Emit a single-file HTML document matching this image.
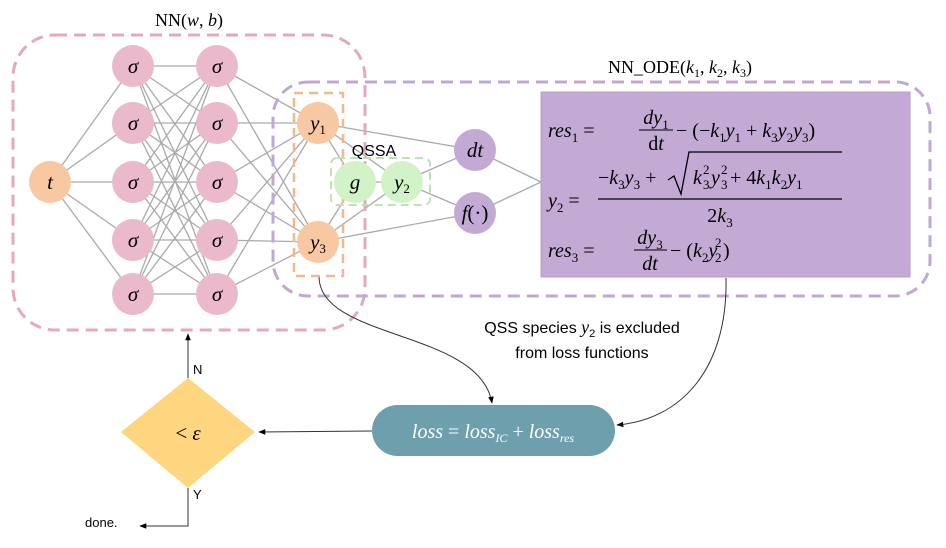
<!DOCTYPE html>
<html><head><meta charset="utf-8"><style>
html,body{margin:0;padding:0;background:#fff;}
svg{display:block;font-family:"Liberation Serif",serif;}
.m{font-style:italic;font-family:"Liberation Serif",serif;}
.s{font-family:"Liberation Sans",sans-serif;}
</style></head><body>
<svg width="946" height="548" viewBox="0 0 946 548" xmlns="http://www.w3.org/2000/svg">
<defs>
<marker id="ar" viewBox="0 0 10 10" refX="9" refY="5" markerWidth="7" markerHeight="7" orient="auto-start-reverse"><path d="M0,1 L10,5 L0,9 z" fill="#000"/></marker>
</defs>
<g id="edges" stroke="#aaa" stroke-width="1.3"></g>
<rect x="13" y="35" width="352" height="295" rx="42" fill="none" stroke="#e4a9c0" stroke-width="3" stroke-dasharray="12,7"/>
<text x="189" y="26" font-size="18" text-anchor="middle">NN(<tspan class="m">w</tspan>, <tspan class="m">b</tspan>)</text>
<rect x="273" y="82" width="657" height="214" rx="35" fill="none" stroke="#c0a8d4" stroke-width="3" stroke-dasharray="12,7"/>
<text x="680" y="73" font-size="18" text-anchor="middle">NN_ODE(<tspan class="m">k</tspan><tspan font-size="12" dy="4">1</tspan><tspan dy="-4">, </tspan><tspan class="m">k</tspan><tspan font-size="12" dy="4">2</tspan><tspan dy="-4">, </tspan><tspan class="m">k</tspan><tspan font-size="12" dy="4">3</tspan><tspan dy="-4">)</tspan></text>
<rect x="294" y="93" width="49" height="183" fill="none" stroke="#f2b98f" stroke-width="2.5" stroke-dasharray="9,6"/>
<rect x="331" y="158" width="99" height="47" rx="6" fill="none" stroke="#bde3b0" stroke-width="2" stroke-dasharray="8,5"/>
<text class="s" x="374" y="156" font-size="16" text-anchor="middle">QSSA</text>
<g id="nodes"></g>
<rect x="541" y="92" width="369" height="185" fill="#c3aad4" stroke="#b39cc6"/>
<g font-size="20">
<text x="548" y="137"><tspan class="m">res</tspan><tspan font-size="13" dy="5">1</tspan><tspan dy="-5"> = </tspan></text>
<text x="656" y="124" class="m" text-anchor="middle">dy<tspan font-size="13" dy="5" font-style="normal">1</tspan></text>
<line x1="639" y1="130" x2="673" y2="130" stroke="#000"/>
<text x="656" y="150" text-anchor="middle">d<tspan class="m">t</tspan></text>
<text x="676" y="137">− (−<tspan class="m">k</tspan><tspan font-size="13" dy="5">1</tspan><tspan dy="-5" class="m">y</tspan><tspan font-size="13" dy="5">1</tspan><tspan dy="-5"> + </tspan><tspan class="m">k</tspan><tspan font-size="13" dy="5">3</tspan><tspan dy="-5" class="m">y</tspan><tspan font-size="13" dy="5">2</tspan><tspan dy="-5" class="m">y</tspan><tspan font-size="13" dy="5">3</tspan><tspan dy="-5">)</tspan></text>

<text x="548" y="207"><tspan class="m">y</tspan><tspan font-size="13" dy="5">2</tspan><tspan dy="-5"> =</tspan></text>
<text x="598" y="184">−<tspan class="m">k</tspan><tspan font-size="13" dy="5">3</tspan><tspan dy="-5" class="m">y</tspan><tspan font-size="13" dy="5">3</tspan><tspan dy="-5"> +</tspan></text>
<path d="M668,180 L674,176 L681,194 L689,152 L842,152" fill="none" stroke="#000" stroke-width="1.3"/>
<text x="693" y="184" class="m">k</text>
<text x="703" y="189" font-size="13">3</text>
<text x="703" y="174" font-size="13">2</text>
<text x="711" y="184" class="m">y</text>
<text x="721" y="189" font-size="13">3</text>
<text x="721" y="174" font-size="13">2</text>
<text x="730" y="184"> + 4<tspan class="m">k</tspan><tspan font-size="13" dy="5">1</tspan><tspan dy="-5" class="m">k</tspan><tspan font-size="13" dy="5">2</tspan><tspan dy="-5" class="m">y</tspan><tspan font-size="13" dy="5">1</tspan></text>
<line x1="598" y1="199" x2="842" y2="199" stroke="#000" stroke-width="1.2"/>
<text x="720" y="222" text-anchor="middle">2<tspan class="m">k</tspan><tspan font-size="13" dy="5">3</tspan></text>

<text x="548" y="257"><tspan class="m">res</tspan><tspan font-size="13" dy="5">3</tspan><tspan dy="-5"> = </tspan></text>
<text x="650" y="244" class="m" text-anchor="middle">dy<tspan font-size="13" dy="5" font-style="normal">3</tspan></text>
<line x1="634" y1="250" x2="667" y2="250" stroke="#000"/>
<text x="650" y="270" class="m" text-anchor="middle">dt</text>
<text x="670" y="257">− (<tspan class="m">k</tspan><tspan font-size="13" dy="5">2</tspan><tspan dy="-5" class="m">y</tspan></text>
<text x="715" y="262" font-size="13">2</text>
<text x="715" y="247" font-size="13">2</text>
<text x="723" y="257">)</text>
</g>
<text class="s" x="582" y="333" font-size="16" text-anchor="middle">QSS species <tspan class="m" font-family="Liberation Serif" font-size="18">y</tspan><tspan font-size="11" dy="4">2</tspan><tspan dy="-4"> is excluded</tspan></text>
<text class="s" x="582" y="358" font-size="16" text-anchor="middle">from loss functions</text>
<path d="M319,277 C320,340 480,330 492,403" fill="none" stroke="#333" stroke-width="1" marker-end="url(#ar)"/>
<path d="M726,278 C728,370 680,420 617,425" fill="none" stroke="#333" stroke-width="1" marker-end="url(#ar)"/>
<rect x="372" y="405" width="243" height="51" rx="25.5" fill="#6e9fad"/>
<text x="493" y="438" font-size="20" fill="#fff" text-anchor="middle"><tspan class="m">loss</tspan> = <tspan class="m">loss</tspan><tspan class="m" font-size="12" dy="4">IC</tspan><tspan dy="-4"> + </tspan><tspan class="m">loss</tspan><tspan class="m" font-size="12" dy="4">res</tspan></text>
<line x1="372" y1="431" x2="259" y2="432" stroke="#333" stroke-width="1" marker-end="url(#ar)"/>
<polygon points="188,378 255,432 188,488 121,432" fill="#fed680"/>
<text x="188" y="440" font-size="21" text-anchor="middle">&lt; <tspan class="m">ε</tspan></text>
<line x1="188" y1="378" x2="188" y2="334" stroke="#333" stroke-width="1" marker-end="url(#ar)"/>
<text class="s" x="193" y="374" font-size="13">N</text>
<text class="s" x="193" y="499" font-size="13">Y</text>
<path d="M188,488 L188,526 L140,526" fill="none" stroke="#333" stroke-width="1" marker-end="url(#ar)"/>
<text class="s" x="85" y="527" font-size="13">done.</text>
</svg>
<script>
const layerYs=[66,123,182,240,294];
const edges=document.getElementById('edges');
const nodesG=document.getElementById('nodes');
function ln(a,b){const l=document.createElementNS('http://www.w3.org/2000/svg','line');


l.setAttribute('x1',a[0]);l.setAttribute('y1',a[1]);l.setAttribute('x2',b[0]);l.setAttribute('y2',b[1]);edges.appendChild(l);}
const t=[50,182],L1=layerYs.map(y=>[133,y]),L2=layerYs.map(y=>[217,y]);
const y1=[318,123],y3=[318,242],g=[355,182],y2=[402,182],dt=[475,150],f=[475,213],conv=[541,182];
L1.forEach(p=>ln(t,p));
L1.forEach(p=>L2.forEach(q=>ln(p,q)));
L2.forEach(p=>{ln(p,y1);ln(p,y3);});
[[y1,g],[y3,g],[y1,y2],[y3,y2],[g,y2],[y1,dt],[y3,f],[y2,dt],[y2,f],[dt,conv],[f,conv]].forEach(e=>ln(e[0],e[1]));
function node(p,fill,label,name,sub){const c=document.createElementNS('http://www.w3.org/2000/svg','circle');


c.setAttribute('cx',p[0]);c.setAttribute('cy',p[1]);c.setAttribute('r',21);c.setAttribute('fill',fill);nodesG.appendChild(c);
const tx=document.createElementNS('http://www.w3.org/2000/svg','text');


tx.setAttribute('x',p[0]);tx.setAttribute('y',p[1]+7);tx.setAttribute('text-anchor','middle');tx.setAttribute('font-size','21');
tx.innerHTML='<tspan font-style="italic">'+label+'</tspan>'+(sub?'<tspan font-size="13" dy="4">'+sub+'</tspan>':'');
nodesG.appendChild(tx);}
node(t,'#f8c8a3','t','input-t');
L1.forEach((p,i)=>node(p,'#ebb9cc','σ','hidden1-node-'+(i+1)));
L2.forEach((p,i)=>node(p,'#ebb9cc','σ','hidden2-node-'+(i+1)));
node(y1,'#f8c8a3','y','output-y1','1');
node(y3,'#f8c8a3','y','output-y3','3');
node(g,'#d2f2c8','g','qssa-g');
node(y2,'#d2f2c8','y','qssa-y2','2');
node(dt,'#c3aad4','dt','derivative-dt');
node(f,'#c3aad4','f','ode-function');
nodesG.lastChild.innerHTML='<tspan font-style="italic">f</tspan>(·)';
</script>
</body></html>
